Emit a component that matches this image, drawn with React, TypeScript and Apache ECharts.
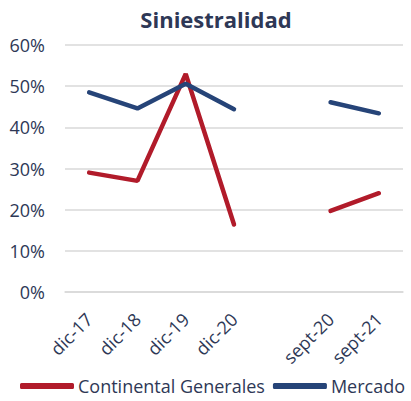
import React, { useEffect, useRef } from "react";
import * as echarts from "echarts";

const categories = ["dic-17", "dic-18", "dic-19", "dic-20", "", "sept-20", "sept-21"];
const continental = [29.0, 27.0, 53.0, 16.4, null, 19.7, 24.0];
const mercado = [48.5, 44.6, 50.6, 44.4, null, 46.1, 43.4];
const yTicks = [0, 60, 10];

const textColor = "#2E3856";
const red = "#B11B2A";
const blue = "#264478";

export default function App() {
  const ref = useRef<HTMLDivElement>(null);
  useEffect(() => {
    const chart = echarts.init(ref.current!, null, { renderer: "svg" });
    chart.setOption({
      animation: false,
      title: {
        text: "Siniestralidad",
        left: 211,
        textAlign: "center",
        top: 3,
        textStyle: { fontFamily: "Open Sans", fontWeight: "bold", fontSize: 22, color: textColor },
      },
      grid: { left: 65, right: 8, top: 45, bottom: 109 },
      legend: {
        top: 377,
        left: 20,
        width: 400,
        padding: 0,
        icon: "roundRect",
        itemWidth: 54,
        itemHeight: 6,
        itemGap: 8,
        textStyle: { fontFamily: "Open Sans", fontSize: 18, color: textColor, padding: [0, 0, 0, -1] },
        data: ["Continental Generales", "Mercado"],
      },
      xAxis: {
        type: "category",
        data: categories,
        boundaryGap: true,
        axisLine: { show: true, lineStyle: { color: "#D9D9D9", width: 1.5 } },
        axisTick: { show: false },
        axisLabel: {
          rotate: 45,
          interval: 0,
          margin: 24,
          fontFamily: "Open Sans",
          fontSize: 18,
          color: textColor,
        },
      },
      yAxis: {
        type: "value",
        min: yTicks[0],
        max: yTicks[1],
        interval: yTicks[2],
        axisLine: { show: false },
        axisTick: { show: false },
        splitLine: { lineStyle: { color: "#D9D9D9", width: 1.5 } },
        axisLabel: {
          formatter: "{value}%",
          margin: 20,
          fontFamily: "Open Sans",
          fontSize: 18,
          color: textColor,
        },
      },
      series: [
        {
          name: "Continental Generales",
          type: "line",
          data: continental,
          connectNulls: false,
          symbol: "none",
          color: red,
          lineStyle: { color: red, width: 4.5, cap: "round" },
        },
        {
          name: "Mercado",
          type: "line",
          data: mercado,
          connectNulls: false,
          symbol: "none",
          color: blue,
          lineStyle: { color: blue, width: 4.5, cap: "round" },
        },
      ],
    });
    return () => chart.dispose();
  }, []);
  return <div ref={ref} style={{ width: 411, height: 401, position: "absolute", left: 0, top: 0 }} />;
}
